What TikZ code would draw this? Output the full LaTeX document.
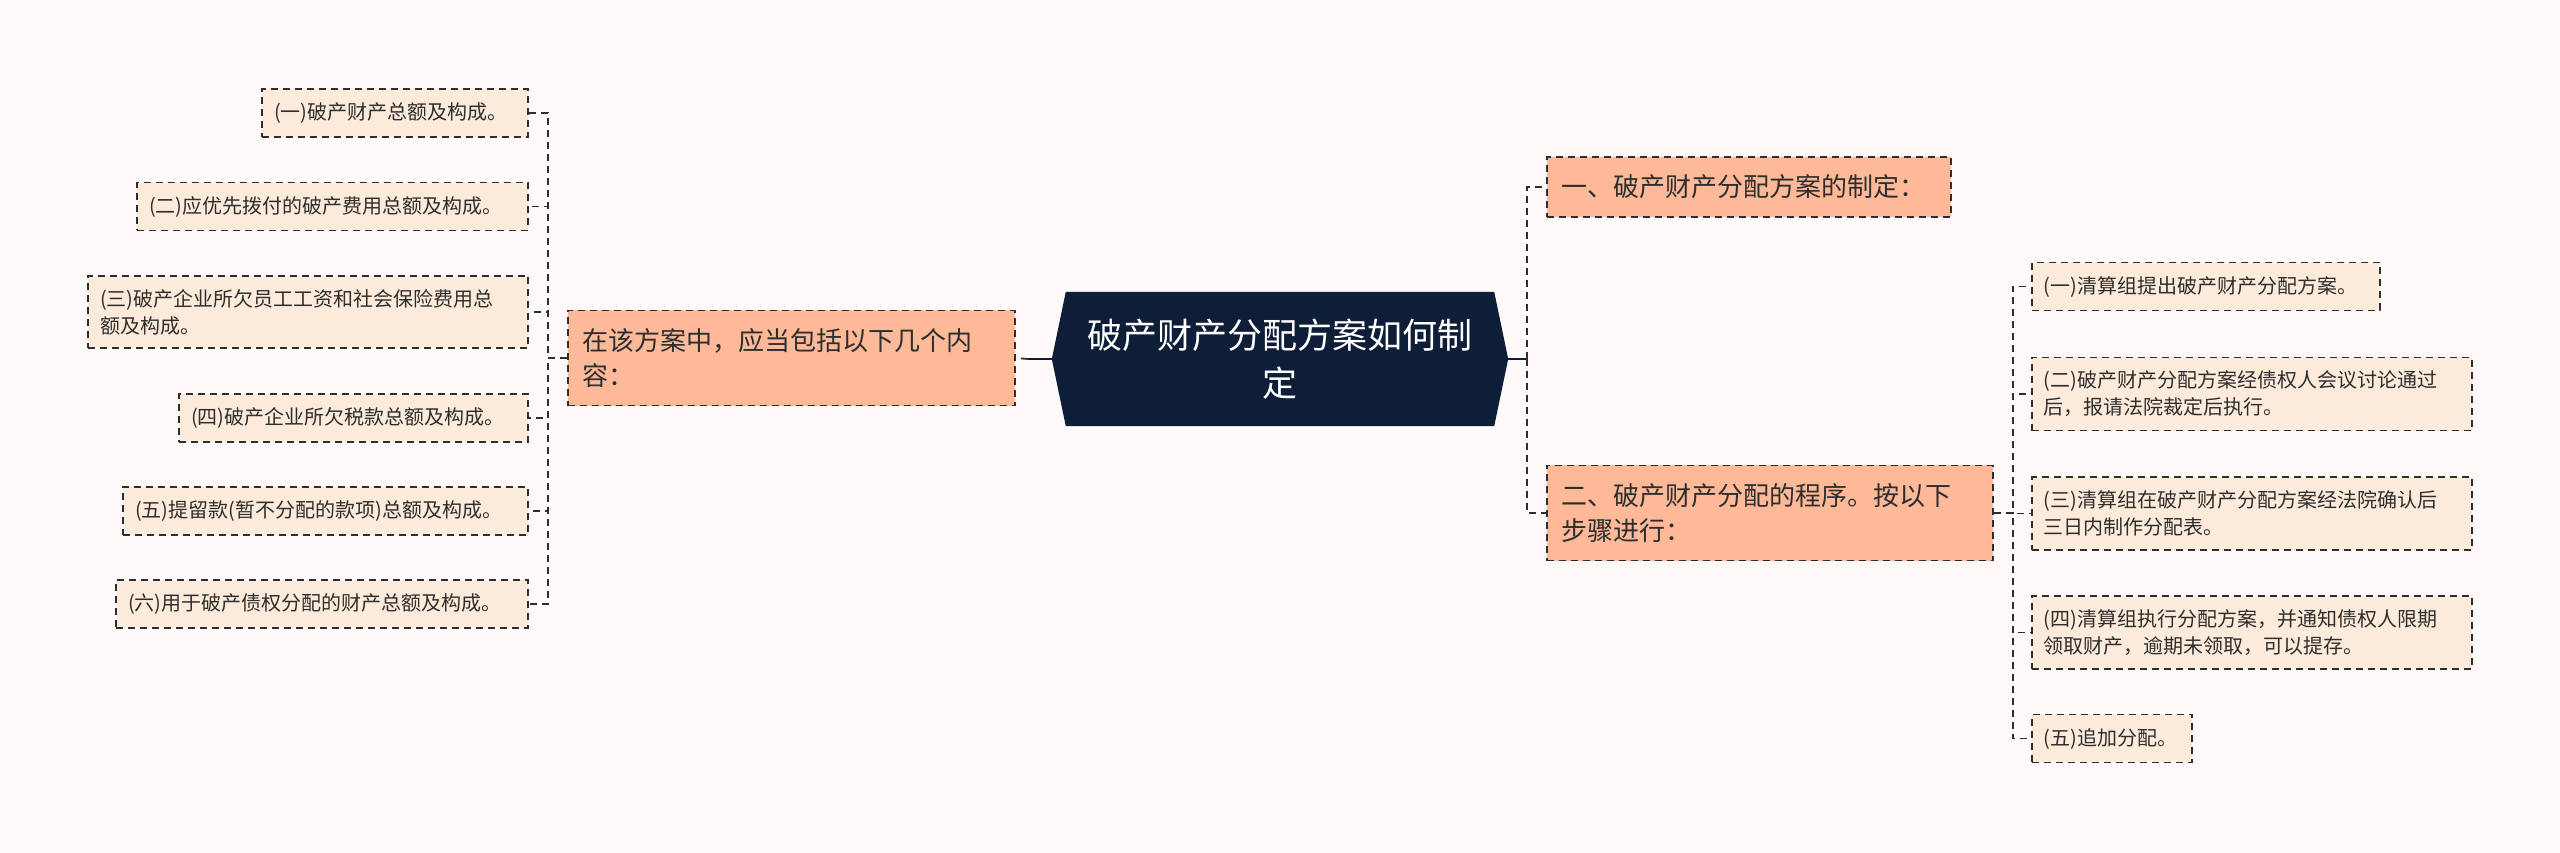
\documentclass[tikz,border=0pt]{standalone}
\usepackage{fontspec}
\setmainfont{Noto Sans CJK SC}
\usepackage{xcolor}
\usepackage{tikz}
\usetikzlibrary{backgrounds}
\definecolor{rootnavy}{HTML}{0E1E38}
\definecolor{branchsalmon}{HTML}{FDB998}
\definecolor{leafpeach}{HTML}{FCEBDA}
\definecolor{paper}{HTML}{FDFAF9}
\definecolor{inkgray}{HTML}{2E2E2E}

\begin{document}
\begin{tikzpicture}[x=1pt, y=-1pt,
    conn/.style={draw=inkgray, line width=1.8pt, dash pattern=on 7pt off 5pt},
    stub/.style={draw=rootnavy, line width=2.4pt},
    leafbox/.style={fill=leafpeach, draw=inkgray, line width=1.8pt, dash pattern=on 7pt off 5pt,
          inner xsep=12pt, inner ysep=13.5pt, align=left, text=inkgray,
          font=\fontsize{20}{27}\selectfont},
    branchbox/.style={fill=branchsalmon, draw=inkgray, line width=1.8pt, dash pattern=on 7pt off 5pt,
          inner xsep=15pt, inner ysep=18pt, align=left, text=inkgray,
          font=\fontsize{26}{35}\selectfont}]

    \begin{scope}[on background layer]
      \fill[paper] (0,0) rectangle (2560,853);
    \end{scope}
    \useasboundingbox (0,0) rectangle (2560,853);

    % root
    \node (ctr) at (1280,359) [minimum width=456pt, minimum height=134pt, inner sep=0pt,
          align=center, text=white, font=\fontsize{35}{48}\selectfont]
          {破产财产分配方案如何制\\定};
    \begin{scope}[on background layer]
      \fill[rootnavy] (ctr.west) -- ([xshift=14pt]ctr.north west) -- ([xshift=-14pt]ctr.north east)
          -- (ctr.east) -- ([xshift=-14pt]ctr.south east) -- ([xshift=14pt]ctr.south west) -- cycle;
    \end{scope}

    % branches
    \node[branchbox, text width=417pt, anchor=west] (lb) at (567,358)
          {在该方案中，应当包括以下几个内\\容：};
    \node[branchbox, text width=374pt, anchor=west] (rb1) at (1546,187)
          {一、破产财产分配方案的制定：};
    \node[branchbox, text width=416pt, anchor=west] (rb2) at (1546,513)
          {二、破产财产分配的程序。按以下\\步骤进行：};

    % left leaves
    \node[leafbox, text width=242pt, anchor=east] (l1) at (529,113) {(一)破产财产总额及构成。};
    \node[leafbox, text width=367pt, anchor=east] (l2) at (529,206.5) {(二)应优先拨付的破产费用总额及构成。};
    \node[leafbox, text width=416pt, anchor=east] (l3) at (529,312)
          {(三)破产企业所欠员工工资和社会保险费用总\\额及构成。};
    \node[leafbox, text width=325pt, anchor=east] (l4) at (529,418) {(四)破产企业所欠税款总额及构成。};
    \node[leafbox, text width=381pt, anchor=east] (l5) at (529,511) {(五)提留款(暂不分配的款项)总额及构成。};
    \node[leafbox, text width=388pt, anchor=east] (l6) at (529,604) {(六)用于破产债权分配的财产总额及构成。};

    % right leaves
    \node[leafbox, text width=324pt, anchor=west] (c1) at (2031,286.5) {(一)清算组提出破产财产分配方案。};
    \node[leafbox, text width=416pt, anchor=west] (c2) at (2031,394)
          {(二)破产财产分配方案经债权人会议讨论通过\\后，报请法院裁定后执行。};
    \node[leafbox, text width=416pt, anchor=west] (c3) at (2031,513.5)
          {(三)清算组在破产财产分配方案经法院确认后\\三日内制作分配表。};
    \node[leafbox, text width=416pt, anchor=west] (c4) at (2031,632.5)
          {(四)清算组执行分配方案，并通知债权人限期\\领取财产，逾期未领取，可以提存。};
    \node[leafbox, text width=136pt, anchor=west] (c5) at (2031,738.5) {(五)追加分配。};

    % connectors
    \draw[stub] (ctr.west) -- ++(-24,0) coordinate (lj);
    \draw[conn] (lj) -- (lb.east);
    \draw[stub] (ctr.east) -- ++(19,0) coordinate (rj);
    \foreach \b in {rb1,rb2}
      \draw[conn] (rj) |- (\b.west);
    \foreach \i in {1,...,6}
      \draw[conn] (lb.west) -- ++(-19,0) |- (l\i.east);
    \foreach \i in {1,...,5}
      \draw[conn] (rb2.east) -- ++(19,0) |- (c\i.west);
\end{tikzpicture}
\end{document}
